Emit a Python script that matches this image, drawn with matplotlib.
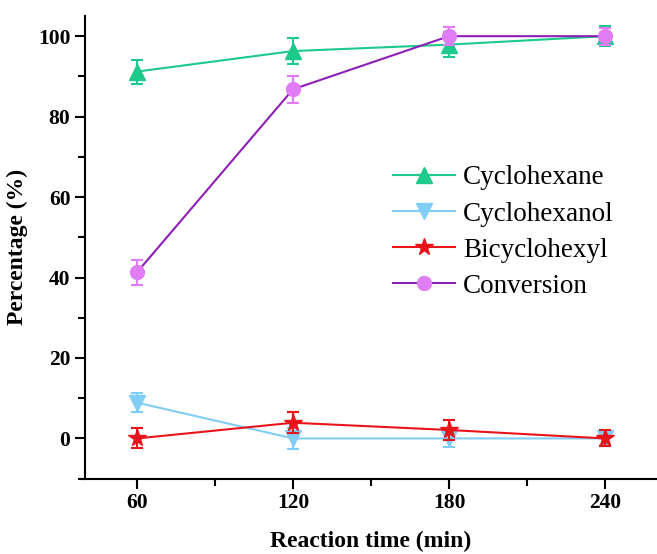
import numpy as np
import matplotlib
matplotlib.use('Agg')
import matplotlib.pyplot as plt
from matplotlib.lines import Line2D

plt.rcParams['font.family'] = ['Liberation Serif', 'DejaVu Serif']

# dados
tempo = [60, 120, 180, 240]
cyclohexane = [91.2, 96.3, 97.9, 100.0]
cyclohexane_err = [3.0, 3.2, 3.1, 2.5]
cyclohexanol = [8.9, 0.0, 0.0, 0.0]
cyclohexanol_err = [2.4, 2.6, 2.2, 1.6]
bicyclohexyl = [0.0, 3.9, 2.1, 0.0]
bicyclohexyl_err = [2.5, 2.6, 2.5, 2.0]
conversion = [41.3, 86.8, 100.0, 100.0]
conversion_err = [3.1, 3.3, 2.3, 2.1]

# estilos: (cor da linha, marcador, tamanho, cor do marcador, cor da barra de erro)
estilos = {
    'Cyclohexane': ('#1DC98B', '^', 11, '#1DC98B', '#1DC98B'),
    'Cyclohexanol': ('#80CDF5', 'v', 11, '#80CDF5', '#80CDF5'),
    'Bicyclohexyl': ('#E8141C', '*', 13, '#E8141C', '#E8141C'),
    'Conversion': ('#8E1EB8', 'o', 10, '#E07CF6', '#E07CF6'),
}
series = [
    ('Cyclohexane', cyclohexane, cyclohexane_err),
    ('Cyclohexanol', cyclohexanol, cyclohexanol_err),
    ('Bicyclohexyl', bicyclohexyl, bicyclohexyl_err),
    ('Conversion', conversion, conversion_err),
]

fig = plt.figure(figsize=(6.57, 5.54), dpi=100)
ax = fig.add_axes([0.1294, 0.136, 0.8706, 0.835])

handles = []
for z, (nome, y, err) in enumerate(series):
    cor, mk, ms, mfc, ecor = estilos[nome]
    ax.errorbar(tempo, y, yerr=err, color=cor, marker=mk, ms=ms, mfc=mfc, mec=mfc,
                ecolor=ecor, lw=1.5, capsize=4, capthick=1.5, elinewidth=1.5,
                zorder=3 + z)
    handles.append(Line2D([], [], color=cor, marker=mk, ms=ms, mfc=mfc, mec=mfc,
                          lw=1.5, label=nome))

ax.set_xlim(40, 260)
ax.set_ylim(-10, 105)
ax.set_xticks(tempo)
ax.set_xticks([90, 150, 210], minor=True)
ax.set_yticks([0, 20, 40, 60, 80, 100])
ax.set_yticks([-10, 10, 30, 50, 70, 90], minor=True)

for s in ['top', 'right']:
    ax.spines[s].set_visible(False)
for s in ['left', 'bottom']:
    ax.spines[s].set_linewidth(1.5)

ax.tick_params(which='major', direction='out', length=7, width=1.5, labelsize=15.5)
ax.tick_params(which='minor', direction='out', length=5, width=1.5)
for lab in ax.get_xticklabels() + ax.get_yticklabels():
    lab.set_fontweight('bold')

ax.set_xlabel('Reaction time (min)', fontsize=17, fontweight='bold', labelpad=13)
ax.set_ylabel('Percentage (%)', fontsize=17, fontweight='bold', labelpad=7)

ax.legend(handles=handles, loc='upper left', bbox_to_anchor=(0.538, 0.677),
          frameon=False, fontsize=19.5, handlelength=2.3, handletextpad=0.3,
          labelspacing=0.41, borderpad=0, borderaxespad=0)

fig.savefig('out.png', dpi=100)
